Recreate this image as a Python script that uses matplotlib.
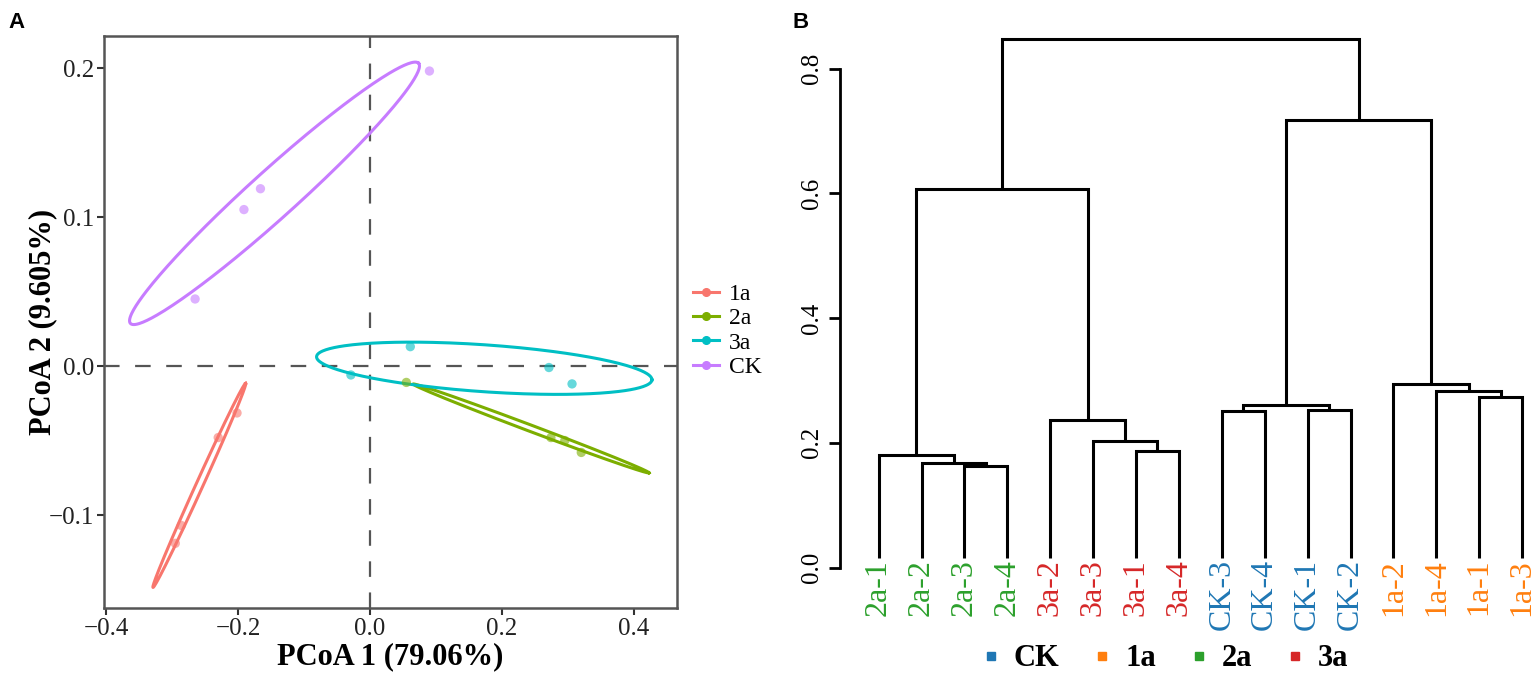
import numpy as np
import matplotlib
matplotlib.use("Agg")
import matplotlib.pyplot as plt
from matplotlib.lines import Line2D

plt.rcParams["font.family"] = ["Liberation Serif", "DejaVu Serif"]
plt.rcParams["axes.unicode_minus"] = True

# --- Panel A data (PCoA) ---
groups = ["1a", "2a", "3a", "CK"]
group_colors = ["#F8766D", "#7CAE00", "#00BFC4", "#C77CFF"]

pc1_1a = [-0.2015, -0.230, -0.286, -0.295]
pc2_1a = [-0.0315, -0.048, -0.107, -0.119]
pc1_2a = [0.055, 0.274, 0.295, 0.320]
pc2_2a = [-0.011, -0.048, -0.050, -0.058]
pc1_3a = [-0.029, 0.061, 0.271, 0.306]
pc2_3a = [-0.006, 0.013, -0.001, -0.012]
pc1_ck = [0.090, -0.166, -0.191, -0.265]
pc2_ck = [0.198, 0.119, 0.105, 0.045]

# confidence ellipses: centre, half major diameter, conjugate half diameter
ell_center = [(-0.2586, -0.0801), (0.244, -0.0419), (0.173, -0.0015), (-0.1447, 0.1159)]
ell_u = [(0.0702, 0.0685), (0.1788, -0.0298), (0.254, -0.0078), (0.2183, 0.0873)]
ell_v = [(0.0048, -0.0010), (-0.0017, -0.0020), (-0.0024, -0.0157), (0.0239, -0.0117)]

# --- Panel B data (clustering) ---
leaf_labels = ["2a-1", "2a-2", "2a-3", "2a-4", "3a-2", "3a-3", "3a-1", "3a-4",
               "CK-3", "CK-4", "CK-1", "CK-2", "1a-2", "1a-4", "1a-1", "1a-3"]
merge_left = [2, 1, 0, 6, 5, 4, 8, 10, 22, 14, 13, 12, 18, 24, 28]
merge_right = [3, 16, 17, 7, 19, 20, 9, 11, 23, 15, 25, 26, 21, 27, 29]
merge_height = [0.1626, 0.167, 0.180, 0.187, 0.203, 0.236, 0.251, 0.252,
                0.261, 0.274, 0.283, 0.294, 0.607, 0.718, 0.848]

clust_groups = ["CK", "1a", "2a", "3a"]
clust_colors = ["#1f77b4", "#ff7f0e", "#2ca02c", "#d62728"]

W, H = 1535, 682
fig = plt.figure(figsize=(W / 100, H / 100), dpi=100)

def rect(l, t, r, b):
    return [l / W, 1 - b / H, (r - l) / W, (b - t) / H]

# --- Panel A ---
ax = fig.add_axes(rect(104, 36, 677, 608))
ax.set_xlim(-0.403, 0.465)
ax.set_ylim(-0.1624, 0.2215)
ax.axvline(0, color="#555555", lw=1.6, dashes=(7, 7), zorder=1)
ax.axhline(0, color="#555555", lw=1.6, dashes=(7, 7), zorder=1)

xs = [pc1_1a, pc1_2a, pc1_3a, pc1_ck]
ys = [pc2_1a, pc2_2a, pc2_3a, pc2_ck]
t = np.linspace(0, 2 * np.pi, 300)
for i, g in enumerate(groups):
    c = group_colors[i]
    ax.scatter(xs[i], ys[i], s=45, color=c, alpha=0.6, edgecolor="none", zorder=3)
    cx, cy = ell_center[i]
    ux, uy = ell_u[i]
    vx, vy = ell_v[i]
    ax.plot(cx + ux * np.cos(t) + vx * np.sin(t), cy + uy * np.cos(t) + vy * np.sin(t),
            color=c, lw=2.2, zorder=2)

ax.set_xticks([-0.4, -0.2, 0.0, 0.2, 0.4])
ax.set_yticks([-0.1, 0.0, 0.1, 0.2])
ax.xaxis.set_major_formatter(lambda v, p: f"{v:.1f}".replace("-", "\u2212"))
ax.yaxis.set_major_formatter(lambda v, p: f"{v:.1f}".replace("-", "\u2212"))
ax.tick_params(labelsize=18, length=5, width=1.5, color="#333333", labelcolor="#222222", pad=2)
for s in ax.spines.values():
    s.set_color("#555555")
    s.set_linewidth(1.8)
ax.set_xlabel("PCoA 1 (79.06%)", fontsize=22, fontweight="bold", labelpad=2)
ax.set_ylabel("PCoA 2 (9.605%)", fontsize=22, fontweight="bold", labelpad=-6)

handles = [Line2D([], [], color=c, lw=2.2, marker="o", markersize=5.5) for c in group_colors]
fig.legend(handles, groups, loc="upper left", bbox_to_anchor=(684 / W, 1 - 274 / H),
           frameon=False, fontsize=17, handlelength=1.1, handletextpad=0.4,
           labelspacing=0.12, borderaxespad=0)

# --- Panel B ---
bx = fig.add_axes(rect(840, 20, 1535, 600))
bx.set_xlim(0.1, 16.3)
bx.set_ylim(-0.0521, 0.878)

leaf_base = 0.016
node_x = [i + 1 for i in range(len(leaf_labels))]
node_h = [leaf_base] * len(leaf_labels)
for l, r, h in zip(merge_left, merge_right, merge_height):
    xl, hl = node_x[l], node_h[l]
    xr, hr = node_x[r], node_h[r]
    bx.plot([xl, xl, xr, xr], [hl, h, h, hr], color="black", lw=2.2,
            solid_joinstyle="miter", solid_capstyle="butt")
    node_x.append((xl + xr) / 2)
    node_h.append(h)

for i, lab in enumerate(leaf_labels):
    col = clust_colors[clust_groups.index(lab.split("-")[0])]
    bx.text(i + 1, leaf_base - 0.002, lab, rotation=90, ha="center", va="top",
            fontsize=23, color=col)

for s in ["top", "right", "bottom"]:
    bx.spines[s].set_visible(False)
bx.spines["left"].set_bounds(0, 0.8)
bx.spines["left"].set_linewidth(2.0)
bx.set_xticks([])
bx.set_yticks([0.0, 0.2, 0.4, 0.6, 0.8])
bx.set_yticklabels(["0.0", "0.2", "0.4", "0.6", "0.8"], rotation=90, va="center")
bx.tick_params(axis="y", labelsize=18, length=8, width=2.0, pad=4)

sq = [Line2D([], [], ls="none", marker="s", markersize=6, color=c) for c in clust_colors]
fig.legend(sq, clust_groups, loc="center", bbox_to_anchor=(1165 / W, 1 - 659 / H), ncol=4,
           frameon=False, prop={"size": 22, "weight": "bold"}, handlelength=0.6,
           handletextpad=0.45, columnspacing=1.1, borderaxespad=0)

# panel labels
fig.text(8 / W, 1 - 22 / H, "A", fontsize=16, fontweight="bold", family="Liberation Sans",
         va="center")
fig.text(792 / W, 1 - 22 / H, "B", fontsize=16, fontweight="bold", family="Liberation Sans",
         va="center")

fig.savefig("out.png", dpi=100)
